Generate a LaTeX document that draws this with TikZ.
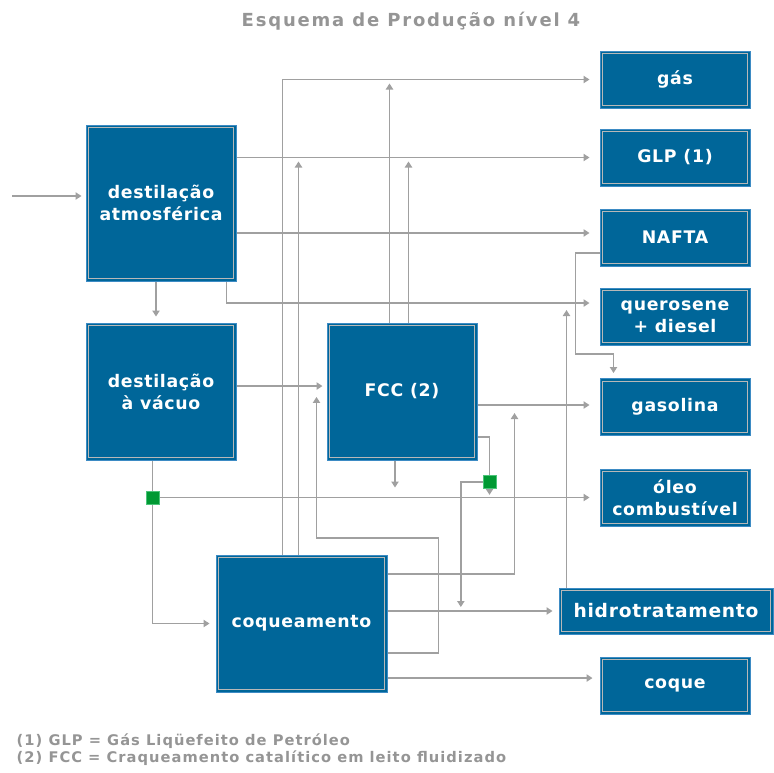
\documentclass[tikz,border=0pt]{standalone}
\usepackage{fontspec}
\setmainfont{DejaVu Sans}
\newfontfamily\boxfont{DejaVu Sans}[LetterSpace=4]
\newfontfamily\titlefont{DejaVu Sans}[LetterSpace=10]
\newfontfamily\notefont{DejaVu Sans}[LetterSpace=7]
\usetikzlibrary{arrows.meta,backgrounds}
\definecolor{boxblue}{HTML}{006699}
\definecolor{edgeblue}{HTML}{3D8BC4}
\definecolor{innergray}{HTML}{B8B8B8}
\definecolor{linegray}{HTML}{A0A0A0}
\definecolor{textgray}{HTML}{959595}
\definecolor{sqgreen}{HTML}{009933}
\definecolor{sqedge}{HTML}{4CC47A}
\begin{document}
\begin{tikzpicture}[x=0.75pt,y=-0.75pt,
 box/.style={rectangle, fill=boxblue, draw=edgeblue, line width=0.75pt, text=white,
   font=\boxfont\bfseries\fontsize{13}{16.5}\selectfont, align=center, inner sep=0pt,
   minimum width=112.5pt,
   path picture={\draw[innergray, line width=0.75pt]
     ([shift={(2.2pt,-2.2pt)}]path picture bounding box.north west) rectangle
     ([shift={(-2.2pt,2.2pt)}]path picture bounding box.south east);}},
 bigbox/.style={box, minimum height=102.75pt},
 prod/.style={box, minimum height=42.75pt},
 conn/.style={draw=linegray, line width=1pt},
 arr/.style={conn, -{Triangle[length=4.5pt,width=5.5pt]}},
 sq/.style={rectangle, fill=sqgreen, draw=sqedge, line width=0.5pt, minimum size=9.5pt, inner sep=0pt},
 note/.style={anchor=west, font=\notefont\bfseries\fontsize{11}{13}\selectfont, text=textgray}
]
\useasboundingbox (0,0) rectangle (774,772);

\node[font=\titlefont\bfseries\fontsize{13.5}{16}\selectfont, text=textgray] (title) at (411,21) {Esquema de Produção nível 4};

\node[box, minimum height=117pt] (atm) at (161,203) {destilação\\atmosférica};
\node[bigbox] (vac) at (161,391.5) {destilação\\à vácuo};
\node[bigbox] (fcc) at (402,391.5) {FCC (2)};
\node[bigbox, minimum width=128.25pt] (coq) at (301.5,623.5) {coqueamento};

\node[prod] (gas) at (675,79.5) {gás};
\node[prod] (glp) at (675,157.5) {GLP (1)};
\node[prod] (nafta) at (675,237.5) {NAFTA};
\node[prod] (quer) at (675,316.5) {querosene\\+ diesel};
\node[prod] (gasol) at (675,407) {gasolina};
\node[prod] (oleo) at (675,497.5) {óleo\\combustível};
\node[box, minimum width=160.5pt, minimum height=34.5pt, font=\boxfont\bfseries\fontsize{14}{16}\selectfont] (hidro) at (666,611) {hidrotratamento};
\node[prod] (coque) at (675,685.5) {coque};

\node[sq] (g1) at (152.5,497.5) {};
\node[sq] (g2) at (489.5,482) {};

\node[note] (n1) at (12,741) {(1) GLP = Gás Liqüefeito de Petróleo};
\node[note] (n2) at (12,758) {(2) FCC = Craqueamento catalítico em leito fluidizado};

\begin{scope}[on background layer]
% input
\coordinate (in) at (12,196);
\draw[arr, shorten >=3pt] (in) -- (in -| atm.west);
% atmospheric distillation outputs
\draw[arr, shorten >=7.5pt] (atm.east |- glp.west) -- (glp.west);
\coordinate (nw) at ([yshift=3.4pt]nafta.west);
\draw[arr, shorten >=7.5pt] (atm.east |- nw) -- (nw);
\coordinate (qw) at ([yshift=10.1pt]quer.west);
\draw[arr, shorten >=7.5pt] ([xshift=-7.5pt]atm.south east) |- (qw);
\draw[arr, shorten >=4.5pt] ([xshift=-3.75pt]atm.south) -- ([xshift=-3.75pt]vac.north);
% coking upward lines
\coordinate (c1) at ([xshift=50.25pt]coq.north west);
\coordinate (c2) at ([xshift=62.25pt]coq.north west);
\draw[arr, shorten >=7.5pt] (c1) |- (gas.west);
\draw[arr, shorten >=3pt] (c2) -- (c2 |- glp.west);
% FCC upward lines
\coordinate (f1) at ([xshift=47.25pt]fcc.north west);
\coordinate (f2) at ([xshift=61.5pt]fcc.north west);
\draw[arr, shorten >=3pt] (f1) -- (f1 |- gas.west);
\draw[arr, shorten >=3pt] (f2) -- (f2 |- glp.west);
% vacuum -> FCC
\coordinate (v1) at ([yshift=4.1pt]vac.east);
\draw[arr, shorten >=3pt] (v1) -- (v1 -| fcc.west);
% FCC -> gasolina
\coordinate (gw) at ([yshift=1.5pt]gasol.west);
\draw[arr, shorten >=7.5pt] (fcc.east |- gw) -- (gw);
% FCC -> green square 2
\coordinate (f3) at ([yshift=-34.1pt]fcc.east);
\draw[conn] (f3) -| (g2);
\draw[arr, shorten >=2pt] (g2) -- (g2 |- oleo.west);
\draw[arr] (g2.west) -- ++(-22,0) -- ++(0,125);
% vacuum -> green square 1 -> coking
\draw[arr, shorten >=4.5pt] (vac.south -| g1) |- (coq.west);
\draw[arr, shorten >=7.5pt] (g1) -- (g1 -| oleo.west);
% coking -> FCC loop
\coordinate (k1) at ([yshift=-22.1pt]coq.east);
\draw[arr] (k1) -- ++(51,0) -- ++(0,-115) -- ++(-122,0) -- ++(0,-141);
% coking -> gasolina line
\coordinate (k2) at ([yshift=37.1pt]coq.east);
\draw[arr] (k2) -- ++(127,0) -- ++(0,-161);
% coking -> hidrotratamento
\draw[arr, shorten >=4.5pt] (coq.east |- hidro.west) -- (hidro.west);
% hidrotratamento -> querosene line
\coordinate (h1) at ([xshift=6pt]hidro.north west);
\draw[arr, shorten >=5.25pt] (h1) -- (h1 |- qw);
% NAFTA -> gasolina
\coordinate (na) at ([yshift=-11.6pt]nafta.west);
\coordinate (nb) at ([xshift=10.5pt]gasol.north west);
\draw[arr, shorten >=3.75pt] (na) -- ++(-24,0) -- ++(0,101) -| (nb);
% FCC bottom
\draw[arr] ([xshift=-5.25pt]fcc.south) -- ++(0,27);
% coking -> coque
\coordinate (cw) at ([yshift=5.6pt]coque.west);
\draw[arr, shorten >=5.25pt] (coq.east |- cw) -- (cw);
\end{scope}
\end{tikzpicture}
\end{document}
